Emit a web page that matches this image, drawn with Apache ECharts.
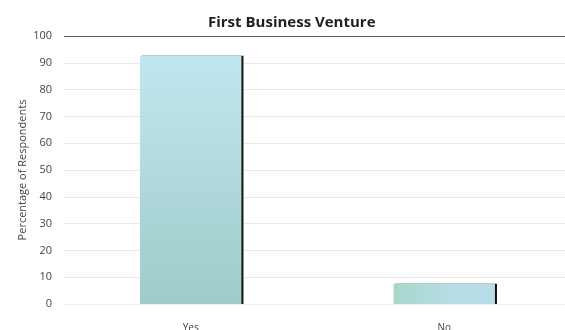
<!DOCTYPE html>
<html>
<head>
<meta charset="utf-8">
<script src="https://cdn.jsdelivr.net/npm/echarts@6/dist/echarts.min.js"></script>
<style>
  html, body { margin: 0; padding: 0; background: #fff; }
  #chart { width: 565px; height: 330px; }
</style>
</head>
<body>
<div id="chart"></div>
<script>
// Survey answers: was this the respondent's first business venture?
const categories = ['Yes', 'No'];
const percentages = [92.6, 7.6];
const yTicks = [0, 10, 20, 30, 40, 50, 60, 70, 80, 90, 100];

const chart = echarts.init(document.getElementById('chart'), null, { renderer: 'canvas' });

// Each bar gets its own soft cyan/teal fill
const fills = [
  new echarts.graphic.LinearGradient(0, 0, 0, 1, [
    { offset: 0, color: '#c1e7f0' },
    { offset: 1, color: '#9ecbc8' }
  ]),
  new echarts.graphic.LinearGradient(0, 0, 1, 0, [
    { offset: 0, color: '#a8d8c9' },
    { offset: 0.6, color: '#b6dde9' },
    { offset: 1, color: '#b9dce6' }
  ])
];

const barData = percentages.map((v, i) => ({ value: v, itemStyle: { color: fills[i] } }));

chart.setOption({
  animation: false,
  backgroundColor: '#ffffff',
  title: {
    text: 'First Business Venture',
    left: 203,
    top: 10,
    textStyle: { fontFamily: 'Open Sans', fontWeight: 'bold', fontSize: 15, color: '#1e1e1e' }
  },
  grid: { left: 64, right: -6, top: 36, bottom: 26, outerBoundsMode: 'none' },
  xAxis: {
    type: 'category',
    data: categories,
    axisLine: { show: false },
    axisTick: { show: false },
    axisLabel: { margin: 19, fontFamily: 'Open Sans', fontSize: 10, color: '#444' }
  },
  yAxis: {
    type: 'value',
    min: yTicks[0],
    max: yTicks[yTicks.length - 1],
    interval: 10,
    name: 'Percentage of Respondents',
    nameLocation: 'middle',
    nameGap: 36,
    nameMoveOverlap: false,
    nameTextStyle: { fontFamily: 'Open Sans', fontSize: 11, color: '#444' },
    axisLine: { show: false },
    axisTick: { show: false },
    axisLabel: { margin: 12, fontFamily: 'Open Sans', fontSize: 11, color: '#444' },
    splitLine: {
      lineStyle: {
        color: ['#f0f0f0', '#e8e8e8', '#e8e8e8', '#e8e8e8', '#e8e8e8', '#e8e8e8',
                '#e8e8e8', '#e8e8e8', '#e8e8e8', '#e8e8e8', '#5a5a5a'],
        width: 1
      }
    }
  },
  series: [{
    type: 'bar',
    data: barData,
    barWidth: '40%',
    itemStyle: {
      shadowColor: '#111111',
      shadowOffsetX: 2,
      shadowOffsetY: 0,
      shadowBlur: 0
    }
  }]
});
</script>
</body>
</html>
